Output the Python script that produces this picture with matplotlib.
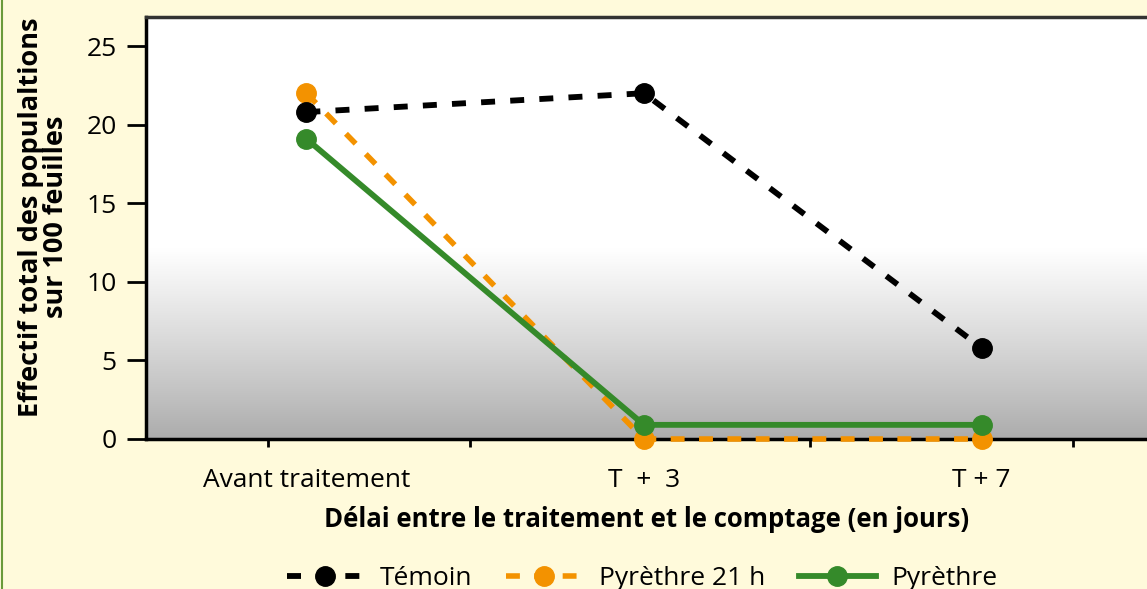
import numpy as np
import matplotlib.pyplot as plt
from matplotlib.lines import Line2D

categories = ['Avant traitement', 'T  +  3', 'T + 7']
temoin = [20.8, 22.0, 5.8]
pyrethre_21h = [22.0, 0.0, 0.0]
pyrethre = [19.1, 0.9, 0.9]
minor_ticks = [-0.113, 0.486, 1.016, 1.493, 2.27]

plt.rcParams['font.family'] = ['Open Sans', 'DejaVu Sans']

bg = '#fffadb'
fig = plt.figure(figsize=(11.47, 5.89), dpi=100, facecolor=bg)
ax = fig.add_axes([146 / 1147, 150 / 589, 1 - 146 / 1147, 422 / 589])
ax.set_facecolor('white')

# grey gradient at the bottom of the plot area (row 0 = bottom)
f = np.linspace(0, 1, 300)
shade = np.where(f < 0.45, 0.67 + 0.33 * (f / 0.45) ** 0.9, 1.0)
img = np.repeat(shade[:, None, None], 3, axis=2)
ax.imshow(img, extent=[0, 1, 0, 1], transform=ax.transAxes, origin='lower',
          aspect='auto', zorder=0)

x = np.arange(len(categories))
ax.plot(x, temoin, color='black', lw=4.2, ls=(0, (2.4, 2.6)), marker='o',
        ms=14, zorder=3, clip_on=False, label='Témoin')
ax.plot(x, pyrethre_21h, color='#f39200', lw=4.0, ls=(0, (2.5, 2.6)), marker='o',
        ms=14, zorder=2.6, clip_on=False, label='Pyrèthre 21 h')
ax.plot(x, pyrethre, color='#358a2a', lw=4.2, marker='o', ms=14, zorder=4,
        clip_on=False, label='Pyrèthre')

ax.set_xlim(-0.475, 2.49)
ax.set_ylim(0, 26.85)
ax.set_yticks([0, 5, 10, 15, 20, 25])
ax.set_xticks(x)
ax.set_xticklabels(categories)
ax.set_xticks(minor_ticks, minor=True)
ax.tick_params(axis='x', which='major', length=0, pad=21, labelsize=19)
ax.tick_params(axis='x', which='minor', length=6, width=2, color='black')
ax.tick_params(axis='y', length=14, width=2, pad=7, labelsize=19)

ax.spines['right'].set_visible(False)
ax.spines['left'].set_linewidth(2.5)
ax.spines['bottom'].set_linewidth(2.5)
ax.spines['top'].set_linewidth(2.5)
ax.spines['top'].set_color('#333333')

ax.set_xlabel('Délai entre le traitement et le comptage (en jours)',
              fontsize=18.5, fontweight='bold', labelpad=9)
fig.text(0.038, 0.632, 'Effectif total des populaltions\nsur 100 feuilles',
         rotation=90, ha='center', va='center', fontsize=19.5,
         fontweight='bold', linespacing=0.95)

fig.legend(loc='center', bbox_to_anchor=(0.56, 0.018), ncol=3, frameon=False,
           fontsize=19, handlelength=2.9, columnspacing=1.3, handletextpad=0.6)

fig.add_artist(Line2D([0.002, 0.002], [0, 1], color='#6a9a3a', lw=1.5,
                      transform=fig.transFigure))

fig.savefig('out.png', dpi=100, facecolor=bg)
